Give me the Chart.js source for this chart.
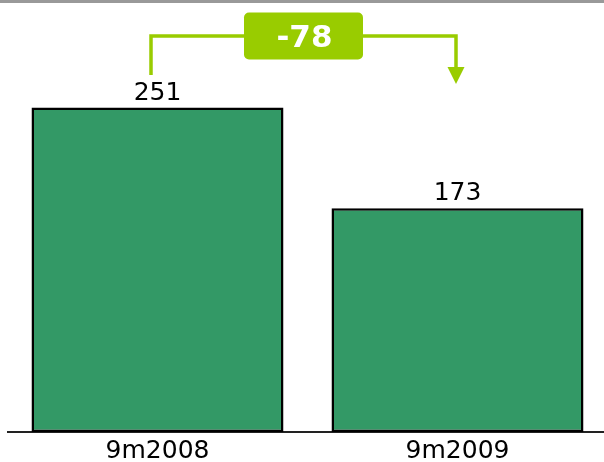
<!DOCTYPE html>
<html>
<head>
<meta charset="utf-8">
<script src="https://cdn.jsdelivr.net/npm/chart.js@4/dist/chart.umd.min.js"></script>
<style>
  html, body { margin: 0; padding: 0; background: #fff; overflow: hidden; }
  #wrap { position: relative; width: 604px; height: 462px; overflow: hidden; }
</style>
</head>
<body>
<div id="wrap"><canvas id="c" width="612" height="470"></canvas></div>
<script>
const categories = ['9m2008', '9m2009'];
const values = [251, 173];

const FONT = '"DejaVu Sans", Verdana, sans-serif';

const decor = {
  id: 'decor',
  afterDatasetsDraw(chart) {
    const ctx = chart.ctx;
    const meta = chart.getDatasetMeta(0);
    const b1 = meta.data[0], b2 = meta.data[1];
    ctx.save();
    // top gray rule
    ctx.fillStyle = '#999999';
    ctx.fillRect(0, 0, chart.width, 3);

    // value labels
    ctx.fillStyle = '#000';
    ctx.font = '25px ' + FONT;
    ctx.textAlign = 'center';
    ctx.textBaseline = 'alphabetic';
    meta.data.forEach((bar, i) => {
      ctx.fillText(String(values[i]), bar.x, bar.y - 8);
    });

    // difference callout
    const green = '#99CC00';
    const xL = b1.x - 6.5, xR = b2.x - 1.5;
    const yLine = 36;
    const yLeftEnd = 75;
    const yArrowTip = 84, arrowH = 17, arrowW = 17;
    ctx.strokeStyle = green;
    ctx.lineWidth = 3.5;
    ctx.beginPath();
    ctx.moveTo(xL, yLeftEnd);
    ctx.lineTo(xL, yLine);
    ctx.lineTo(xR, yLine);
    ctx.lineTo(xR, yArrowTip - arrowH + 1);
    ctx.stroke();
    ctx.fillStyle = green;
    ctx.beginPath();
    ctx.moveTo(xR - arrowW / 2, yArrowTip - arrowH);
    ctx.lineTo(xR + arrowW / 2, yArrowTip - arrowH);
    ctx.lineTo(xR, yArrowTip);
    ctx.closePath();
    ctx.fill();

    const cx = (xL + xR) / 2;
    const bw = 119, bh = 47, r = 5;
    const bx = cx - bw / 2, by = 12.5;
    ctx.beginPath();
    ctx.roundRect(bx, by, bw, bh, r);
    ctx.fill();
    ctx.fillStyle = '#ffffff';
    ctx.font = 'bold 31px ' + FONT;
    ctx.textAlign = 'center';
    ctx.textBaseline = 'alphabetic';
    const diff = values[1] - values[0];
    ctx.fillText(String(diff), cx + 1, 47);
    ctx.restore();
  }
};

new Chart(document.getElementById('c'), {
  type: 'bar',
  data: {
    labels: categories,
    datasets: [{
      data: values,
      backgroundColor: '#339966',
      borderColor: '#000000',
      borderWidth: 2.5,
      borderSkipped: false,
      barPercentage: 0.84,
      categoryPercentage: 1.0
    }]
  },
  options: {
    responsive: false,
    animation: false,
    events: [],
    layout: { padding: { left: 7.5, right: 4.5, top: 44.2, bottom: 0 } },
    plugins: { legend: { display: false }, tooltip: { enabled: false } },
    scales: {
      x: {
        grid: { display: false, drawTicks: false },
        border: { display: true, color: '#222222', width: 2 },
        ticks: { color: '#000', padding: 4, font: { family: FONT, size: 25, lineHeight: 1.2 } }
      },
      y: {
        display: false,
        min: 0,
        max: 300
      }
    }
  },
  plugins: [decor]
});
</script>
</body>
</html>
